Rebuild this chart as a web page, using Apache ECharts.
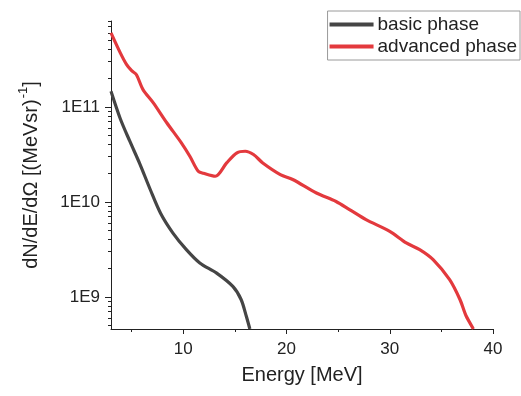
<!DOCTYPE html>
<html>
<head>
<meta charset="utf-8">
<script src="https://cdn.jsdelivr.net/npm/echarts@6/dist/echarts.min.js"></script>
<style>
  html, body { margin: 0; padding: 0; background: #fff; }
  #main { width: 521px; height: 396px; }
</style>
</head>
<body>
<div id="main"></div>
<script>
// values (energy in MeV, flux in (MeV sr)^-1)
const basicEnergy = [3, 3.9, 4.8, 5.8, 6.8, 7.8, 9.0, 10.3, 11.6, 13.2, 14.8, 15.6, 16.1, 16.45];
const basicFlux = [1.46e11, 7.5e10, 4.4e10, 2.5e10, 1.35e10, 7.6e9, 4.7e9, 3.15e9, 2.28e9, 1.79e9, 1.29e9, 9.4e8, 6.3e8, 4.6e8];

const advEnergy = [3, 3.9, 4.5, 5.0, 5.45, 6.1, 7.1, 8.4, 9.8, 10.65, 11.45, 11.95, 13.1, 14.2, 15.2, 16.0, 16.8, 17.7, 19.4, 20.6, 22.9, 24.8, 26.1, 27.7, 30.0, 31.6, 32.9, 34.2, 35.8, 36.8, 37.4, 38.1];
const advFlux = [6.0e11, 3.7e11, 2.8e11, 2.4e11, 2.19e11, 1.52e11, 1.1e11, 6.8e10, 4.2e10, 3.0e10, 2.1e10, 2.0e10, 1.86e10, 2.57e10, 3.28e10, 3.41e10, 3.15e10, 2.57e10, 1.94e10, 1.72e10, 1.24e10, 1.01e10, 8.3e9, 6.5e9, 4.9e9, 3.7e9, 3.15e9, 2.47e9, 1.52e9, 9.4e8, 6.3e8, 4.6e8];

const xMajorTicks = [10, 20, 30, 40];
const xMinorTicks = [5, 15, 25, 35];
const yMajorTicks = [1e9, 1e10, 1e11];
const yMinorTicks = [5e8, 6e8, 7e8, 8e8, 9e8,
  2e9, 3e9, 4e9, 5e9, 6e9, 7e9, 8e9, 9e9,
  2e10, 3e10, 4e10, 5e10, 6e10, 7e10, 8e10, 9e10,
  2e11, 3e11, 4e11, 5e11, 6e11, 7e11, 8e11];

const seriesNames = ['basic phase', 'advanced phase'];
const colors = ['#454545', '#e3393d'];

const font = 'Liberation Sans, Arial, sans-serif';
const xMin = 3, xMax = 40, yMin = 4.6e8, yMax = 8e11;

function pairs(xs, ys) {
  return xs.map((x, i) => [x, ys[i]]);
}

function xAxisConfig(ticks, len, showLabel) {
  return {
    type: 'value', min: xMin, max: xMax, position: 'bottom',
    axisLine: { show: showLabel, lineStyle: { color: '#222', width: 1 } },
    axisTick: { show: true, customValues: ticks, length: len, lineStyle: { color: '#222' } },
    axisLabel: { show: showLabel, customValues: xMajorTicks, color: '#222', fontSize: 17, fontFamily: font, margin: 12 },
    splitLine: { show: false }
  };
}

function yAxisConfig(ticks, len, showLabel) {
  return {
    type: 'log', min: yMin, max: yMax, logBase: 10, position: 'left',
    axisLine: { show: showLabel, lineStyle: { color: '#222', width: 1 } },
    axisTick: { show: true, customValues: ticks, length: len, lineStyle: { color: '#222' } },
    axisLabel: {
      show: showLabel, customValues: yMajorTicks, color: '#222', fontSize: 17, fontFamily: font, margin: 11,
      formatter: v => '1E' + Math.round(Math.log10(v))
    },
    splitLine: { show: false }
  };
}

const xMain = xAxisConfig(xMajorTicks, 5, true);
xMain.name = 'Energy [MeV]';
xMain.nameLocation = 'middle';
xMain.nameGap = 36;
xMain.nameTextStyle = { color: '#222', fontSize: 20, fontFamily: font };

const yMain = yAxisConfig(yMajorTicks, 6, true);
yMain.name = '{a|dN/dE/dΩ [(MeVsr)}{s|-1}{a|]}';
yMain.nameLocation = 'middle';
yMain.nameGap = 70;
yMain.nameTextStyle = {
  rich: {
    a: { color: '#222', fontSize: 20, fontFamily: font, lineHeight: 24, verticalAlign: 'bottom' },
    s: { color: '#222', fontSize: 13, fontFamily: font, lineHeight: 24, verticalAlign: 'top', padding: [0, 0, 0, 1] }
  }
};

const option = {
  animation: false,
  backgroundColor: '#fff',
  grid: { left: 111, right: 28, top: 21, bottom: 67 },
  legend: {
    data: seriesNames,
    orient: 'vertical',
    right: 1, top: 11,
    icon: 'rect',
    itemWidth: 44, itemHeight: 4,
    itemGap: 3,
    padding: [4, 3, 4, 2],
    borderColor: '#9a9a9a', borderWidth: 1,
    textStyle: { color: '#222', fontSize: 19, fontFamily: font, padding: [0, 0, 0, -1] }
  },
  xAxis: [xMain, xAxisConfig(xMinorTicks, 3, false)],
  yAxis: [yMain, yAxisConfig(yMinorTicks, 3, false)],
  series: [
    {
      name: seriesNames[0], type: 'line', data: pairs(basicEnergy, basicFlux),
      smooth: 0.3, showSymbol: false, clip: true,
      lineStyle: { color: colors[0], width: 3.2 }, itemStyle: { color: colors[0] }
    },
    {
      name: seriesNames[1], type: 'line', data: pairs(advEnergy, advFlux),
      smooth: 0.3, showSymbol: false, clip: true,
      lineStyle: { color: colors[1], width: 3.2 }, itemStyle: { color: colors[1] }
    }
  ]
};

const chart = echarts.init(document.getElementById('main'), null, { renderer: 'canvas' });
chart.setOption(option);
window.onresize = function() {
  chart.resize();
};
</script>
</body>
</html>
